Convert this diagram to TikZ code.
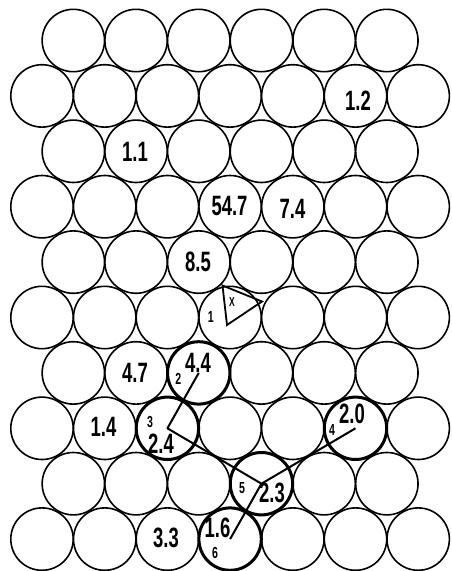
\documentclass[tikz,border=0pt]{standalone}
\usepackage{fontspec}
\newfontfamily\labfont[FakeStretch=0.66]{Liberation Sans}
\begin{document}
\begin{tikzpicture}[x=1pt,y=-1pt,
  disc/.style={circle,draw,line width=1.6pt,minimum size=62.4pt,inner sep=0pt},
  thickdisc/.style={disc,line width=3pt},
  big/.style={font=\labfont\bfseries\fontsize{28}{28}\selectfont,inner sep=0pt},
  small/.style={font=\labfont\bfseries\fontsize{16}{16}\selectfont,inner sep=0pt},
  tiny/.style={font=\labfont\bfseries\fontsize{13}{13}\selectfont,inner sep=0pt},
  link/.style={line width=2pt,line join=round}]
\useasboundingbox (0,0) rectangle (452,571);
\fill[white] (0,0) rectangle (452,571);
% hexagonal packing of discs
\foreach \k in {1,3,5,7,9}
  \foreach \j in {0,...,5}
    \node[disc] (c-\k-\j) at ({73.35+62.7*\j},{40.5+55.4*(\k-1)}) {};
\foreach \k in {2,4,6,8,10}
  \foreach \j in {0,...,6}
    \node[disc] (c-\k-\j) at ({42+62.7*\j},{40.5+55.4*(\k-1)}) {};
% thick rings of the path
\node[thickdisc] (r2) at (c-7-2) {};
\node[thickdisc] (r3) at (c-8-2) {};
\node[thickdisc] (r4) at (c-8-5) {};
\node[thickdisc] (r5) at (c-9-3) {};
\node[thickdisc] (r6) at (c-10-3) {};
% connecting lines
\draw[link] (c-7-2.center) -- (c-8-2.center) -- (c-9-3.center) -- (c-10-3.center);
\draw[link] (c-8-5.center) -- (c-9-3.center);
% triangle in disc 1
\coordinate (tA) at (222.5,285.5);
\coordinate (tB) at (262,301.5);
\coordinate (tC) at (227,325);
\draw[link,line width=1.8pt,line join=miter] (tC) -- (tA) -- (tB) -- cycle;
% numbers
\node[big] (n12) at (358,101) {1.2};
\node[big] (n11) at (135,152) {1.1};
\node[big] (n547) at (229.5,206) {54.7};
\node[big] (n74) at (292.5,209) {7.4};
\node[big] (n85) at (198,262) {8.5};
\node[big] (n47) at (135,373) {4.7};
\node[big] (n44) at (198,363) {4.4};
\node[big] (n14) at (103.5,427) {1.4};
\node[big] (n24) at (161,444) {2.4};
\node[big] (n20) at (352,414) {2.0};
\node[big] (n23) at (272,493) {2.3};
\node[big] (n16) at (217.5,528) {1.6};
\node[big] (n33) at (166,538) {3.3};
% small path labels
\node[small] (l1) at (210.7,316.7) {1};
\node[small] (l2) at (178.3,379) {2};
\node[small] (l3) at (150,421.7) {3};
\node[small] (l4) at (332,430) {4};
\node[small] (l5) at (242,488) {5};
\node[small] (l6) at (215,553) {6};
\node[tiny] (lx) at (232,302) {X};
\end{tikzpicture}
\end{document}
